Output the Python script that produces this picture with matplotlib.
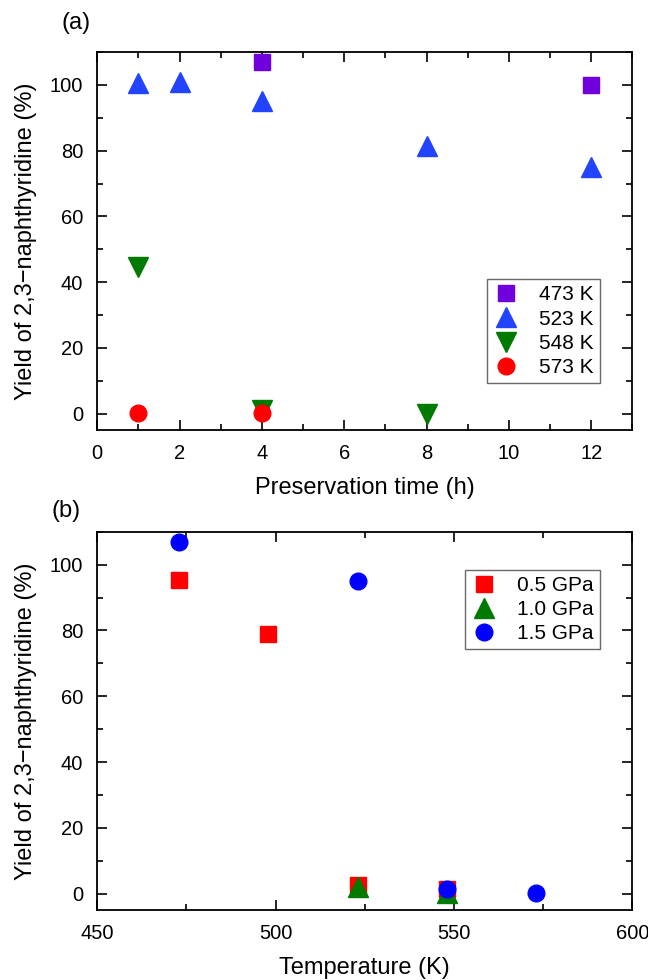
import matplotlib
matplotlib.use('Agg')
import matplotlib.pyplot as plt
from matplotlib.ticker import MultipleLocator

plt.rcParams['font.family'] = ['Liberation Sans', 'DejaVu Sans']

# (a) yield vs preservation time
t_473 = [4, 12]
y_473 = [107, 100]
t_523 = [1, 2, 4, 8, 12]
y_523 = [100.5, 100.8, 95, 81.5, 75]
t_548 = [1, 4, 8]
y_548 = [44.5, 1, 0]
t_573 = [1, 4]
y_573 = [0.3, 0.2]

# (b) yield vs temperature
T_05 = [473, 498, 523, 548]
y_05 = [95.3, 78.8, 2.5, 1.5]
T_10 = [523, 548]
y_10 = [2, 0.3]
T_15 = [473, 523, 548, 573]
y_15 = [107, 95, 1.5, 0.2]

fig = plt.figure(figsize=(6.48, 9.8), dpi=100)
ax1 = fig.add_axes([0.150, 0.561, 0.826, 0.386])
ax2 = fig.add_axes([0.150, 0.0714, 0.826, 0.386])

ax1.plot(t_473, y_473, 's', color='#7000dd', ms=11, label='473 K', ls='none')
ax1.plot(t_523, y_523, '^', color='#2244ff', ms=14, label='523 K', ls='none')
ax1.plot(t_548, y_548, 'v', color='#007a00', ms=14, label='548 K', ls='none')
ax1.plot(t_573, y_573, 'o', color='#ff0000', ms=12, label='573 K', ls='none')

ax2.plot(T_05, y_05, 's', color='#ff0000', ms=11, label='0.5 GPa', ls='none')
ax2.plot(T_10, y_10, '^', color='#007a00', ms=14, label='1.0 GPa', ls='none')
ax2.plot(T_15, y_15, 'o', color='#0000ff', ms=12, label='1.5 GPa', ls='none')

ax1.set_xlim(0, 13)
ax1.xaxis.set_major_locator(MultipleLocator(2))
ax1.xaxis.set_minor_locator(MultipleLocator(1))
ax2.set_xlim(450, 600)
ax2.xaxis.set_major_locator(MultipleLocator(50))
ax2.xaxis.set_minor_locator(MultipleLocator(25))

for ax in (ax1, ax2):
    ax.set_ylim(-5, 110)
    ax.yaxis.set_major_locator(MultipleLocator(20))
    ax.yaxis.set_minor_locator(MultipleLocator(10))
    ax.tick_params(which='both', direction='in', top=True, right=True, labelsize=14.5, width=1.2)
    ax.tick_params(which='major', length=7, pad=10)
    ax.tick_params(which='minor', length=4)
    for s in ax.spines.values():
        s.set_linewidth(1.3)
    ax.set_ylabel('Yield of 2,3\u2212naphthyridine (%)', fontsize=17, labelpad=9)

ax1.set_xlabel('Preservation time (h)', fontsize=17, labelpad=10)
ax2.set_xlabel('Temperature (K)', fontsize=17, labelpad=10)

leg1 = ax1.legend(loc='lower right', bbox_to_anchor=(0.94, 0.124), fontsize=15, frameon=True,
                  fancybox=False, edgecolor='#444444', handletextpad=1.0, labelspacing=0.25,
                  borderpad=0.3, handlelength=1.2, borderaxespad=0)
leg2 = ax2.legend(loc='upper right', bbox_to_anchor=(0.94, 0.90), fontsize=15, frameon=True,
                  fancybox=False, edgecolor='#444444', handletextpad=1.0, labelspacing=0.25,
                  borderpad=0.3, handlelength=1.2, borderaxespad=0)

fig.text(0.095, 0.977, '(a)', fontsize=17, ha='left', va='center')
fig.text(0.080, 0.479, '(b)', fontsize=17, ha='left', va='center')

plt.savefig('out.png', dpi=100)
